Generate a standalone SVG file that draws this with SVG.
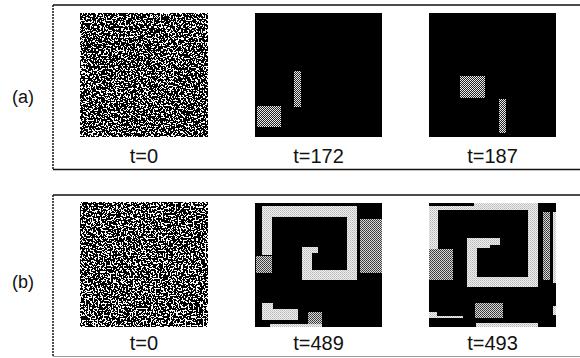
<svg xmlns="http://www.w3.org/2000/svg" width="580" height="358" viewBox="0 0 580 358">
  <defs>
    <!-- random binary cell field for the initial states -->
    <filter id="noise" x="0" y="0" width="100%" height="100%" filterUnits="objectBoundingBox">
      <feTurbulence type="fractalNoise" baseFrequency="0.6" numOctaves="3" seed="7" result="t"/>
      <feColorMatrix in="t" type="matrix" values="0 0 0 0 0  0 0 0 0 0  0 0 0 0 0  1 0 0 0 0" result="a"/>
      <feComponentTransfer in="a" result="b">
        <feFuncA type="discrete" tableValues="0 0 0 0 0 0 0 0 0 1 1 1 1 1 1 1 1 1 1 1"/>
      </feComponentTransfer>
      <feFlood flood-color="#000" result="blk"/>
      <feComposite in="blk" in2="b" operator="in" result="dots"/>
      <feFlood flood-color="#fff" result="wht"/>
      <feMerge>
        <feMergeNode in="wht"/>
        <feMergeNode in="dots"/>
      </feMerge>
    </filter>
    <filter id="noise2" x="0" y="0" width="100%" height="100%" filterUnits="objectBoundingBox">
      <feTurbulence type="fractalNoise" baseFrequency="0.6" numOctaves="3" seed="23" result="t"/>
      <feColorMatrix in="t" type="matrix" values="0 0 0 0 0  0 0 0 0 0  0 0 0 0 0  1 0 0 0 0" result="a"/>
      <feComponentTransfer in="a" result="b">
        <feFuncA type="discrete" tableValues="0 0 0 0 0 0 0 0 0 1 1 1 1 1 1 1 1 1 1 1"/>
      </feComponentTransfer>
      <feFlood flood-color="#000" result="blk"/>
      <feComposite in="blk" in2="b" operator="in" result="dots"/>
      <feFlood flood-color="#fff" result="wht"/>
      <feMerge>
        <feMergeNode in="wht"/>
        <feMergeNode in="dots"/>
      </feMerge>
    </filter>
    <!-- dithered light grey -->
    <pattern id="light" width="2" height="2" patternUnits="userSpaceOnUse">
      <rect width="2" height="2" fill="#f2f2f2"/>
      <rect width="1" height="1" fill="#b4b4b4"/>
      <rect x="1" y="1" width="1" height="1" fill="#c8c8c8"/>
    </pattern>
    <!-- dithered dark grey -->
    <pattern id="dark" width="2" height="2" patternUnits="userSpaceOnUse">
      <rect width="2" height="2" fill="#d8d8d8"/>
      <rect width="1" height="1" fill="#333"/>
      <rect x="1" y="1" width="1" height="1" fill="#4a4a4a"/>
    </pattern>
    <!-- checkered dots on black -->
    <pattern id="check" width="2" height="2" patternUnits="userSpaceOnUse">
      <rect width="2" height="2" fill="#222"/>
      <rect width="1" height="1" fill="#f0f0f0"/>
      <rect x="1" y="1" width="1" height="1" fill="#e4e4e4"/>
    </pattern>
  </defs>
  <style>
    .lbl { font-family: "Liberation Sans", Arial, sans-serif; font-size: 20px; fill: #111; text-anchor: middle; }
    .tag { font-family: "Liberation Sans", Arial, sans-serif; font-size: 18px; fill: #111; text-anchor: middle; }
    .edge { stroke: #111; stroke-width: 1.6; }
    .side { stroke: #222; stroke-width: 1.6; stroke-dasharray: 2 1; }
    .bg { fill: #000; }
    .lt { fill: url(#light); }
    .dk { fill: url(#dark); }
    .ck { fill: url(#check); }
  </style>

  <rect width="580" height="358" fill="#fff"/>

  <!-- row (a) -->
  <g id="row-a">
    <line class="edge" x1="53" y1="5" x2="580" y2="5"/>
    <line class="side" x1="53" y1="5" x2="53" y2="169.5"/>
    <line class="edge" x1="53" y1="169.5" x2="580" y2="169.5"/>
    <text class="tag" x="23" y="103">(a)</text>

    <g id="a-t0">
      <rect x="80" y="13" width="128" height="124" filter="url(#noise)"/>
      <text class="lbl" x="144" y="163">t=0</text>
    </g>

    <g id="a-t172">
      <rect class="bg" x="255" y="13" width="127" height="124"/>
      <rect class="ck" x="257" y="106" width="24" height="21"/>
      <rect class="ck" x="294" y="71" width="7" height="36"/>
      <text class="lbl" x="318.5" y="163">t=172</text>
    </g>

    <g id="a-t187">
      <rect class="bg" x="429" y="13" width="127" height="124"/>
      <rect class="ck" x="460" y="76" width="25" height="22"/>
      <rect class="ck" x="499" y="99" width="7" height="34"/>
      <text class="lbl" x="492.5" y="163">t=187</text>
    </g>
  </g>

  <!-- row (b) -->
  <g id="row-b">
    <line class="edge" x1="53" y1="195" x2="580" y2="195"/>
    <line class="side" x1="53" y1="195" x2="53" y2="356.5"/>
    <line x1="53" y1="356.5" x2="580" y2="356.5" stroke="#999" stroke-width="1.2"/>
    <text class="tag" x="23" y="288">(b)</text>

    <g id="b-t0">
      <rect x="80" y="202" width="128" height="125" filter="url(#noise2)"/>
      <text class="lbl" x="144" y="350">t=0</text>
    </g>

    <g id="b-t489">
      <rect class="bg" x="255" y="203" width="127" height="124"/>
      <!-- spiral -->
      <rect class="lt" x="262" y="206" width="95" height="11"/>
      <rect class="lt" x="262" y="206" width="10" height="49"/>
      <rect class="lt" x="347" y="206" width="10" height="74"/>
      <rect class="lt" x="302" y="270" width="55" height="10"/>
      <rect class="lt" x="302" y="247" width="10" height="33"/>
      <rect class="lt" x="302" y="247" width="16" height="6"/>
      <!-- side blocks -->
      <rect class="dk" x="360" y="219" width="22" height="54"/>
      <rect class="dk" x="256" y="256" width="16" height="17"/>
      <!-- lower cells -->
      <rect class="lt" x="262" y="303" width="11" height="17"/>
      <rect class="lt" x="273" y="309" width="25" height="11"/>
      <rect class="dk" x="308" y="312" width="14" height="15"/>
      <rect class="lt" x="270" y="324" width="52" height="3"/>
      <text class="lbl" x="318.5" y="350">t=489</text>
    </g>

    <g id="b-t493">
      <rect class="bg" x="429" y="203" width="127" height="124"/>
      <!-- spiral -->
      <rect class="lt" x="474" y="203" width="64" height="7"/>
      <rect class="lt" x="429" y="206" width="109" height="4"/>
      <rect class="lt" x="429" y="206" width="9" height="44"/>
      <rect class="lt" x="528" y="203" width="10" height="84"/>
      <rect class="lt" x="467" y="277" width="71" height="10"/>
      <rect class="lt" x="467" y="238" width="10" height="49"/>
      <rect class="lt" x="467" y="238" width="33" height="7"/>
      <rect class="lt" x="467" y="245" width="23" height="3"/>
      <!-- side blocks -->
      <rect class="dk" x="429" y="249" width="24" height="31"/>
      <rect class="dk" x="543" y="212" width="7" height="68"/>
      <rect class="lt" x="553" y="212" width="3" height="71"/>
      <!-- lower cells -->
      <rect class="dk" x="475" y="303" width="28" height="15"/>
      <rect class="lt" x="429" y="312" width="8" height="6"/>
      <rect class="lt" x="437" y="316" width="26" height="2"/>
      <rect class="lt" x="476" y="323" width="62" height="4"/>
      <rect class="lt" x="553" y="306" width="3" height="9"/>
      <text class="lbl" x="492.5" y="350">t=493</text>
    </g>
  </g>
</svg>
